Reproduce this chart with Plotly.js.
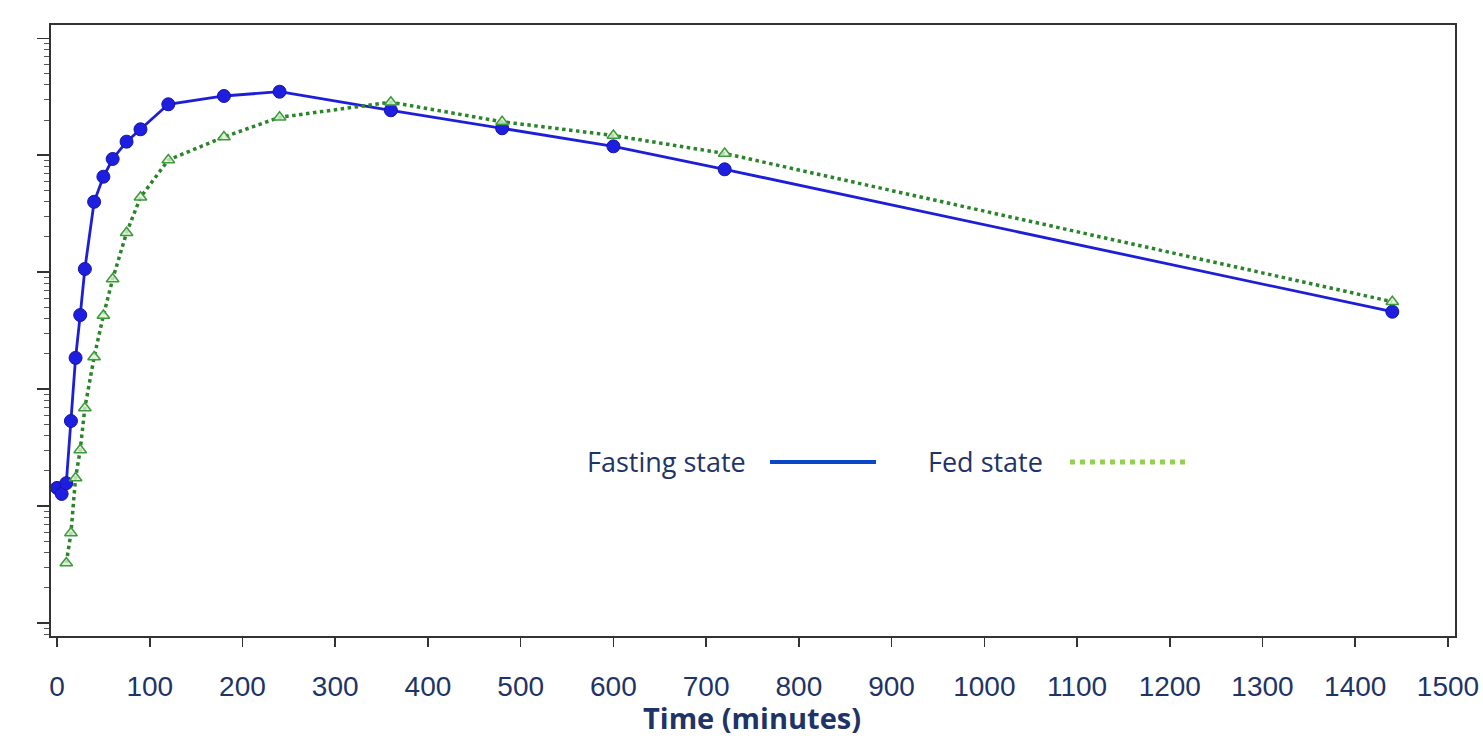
<!DOCTYPE html>
<html>
<head>
<meta charset="utf-8">
<script src="https://cdn.plot.ly/plotly-3.0.1.min.js"></script>
<style>html,body{margin:0;padding:0;background:#fff;}#chart{width:1483px;height:741px;}</style>
</head>
<body>
<div id="chart"></div>
<script>
// Time points (minutes)
const timeFasting = [0, 5, 10, 15, 20, 25, 30, 40, 50, 60, 75, 90, 120, 180, 240, 360, 480, 600, 720, 1440];
const concFasting = [1.43, 1.27, 1.57, 5.34, 18.5, 43.0, 106.5, 400, 655, 929, 1306, 1667, 2727, 3211, 3494, 2423, 1700, 1192, 758, 45.9];
const timeFed = [10, 15, 20, 25, 30, 40, 50, 60, 75, 90, 120, 180, 240, 360, 480, 600, 720, 1440];
const concFed = [0.326, 0.588, 1.74, 3.02, 6.90, 18.8, 42.6, 87.4, 217.6, 436.9, 910.6, 1432, 2110, 2842, 1935, 1475, 1035, 55.9];
const xTickVals = [0, 100, 200, 300, 400, 500, 600, 700, 800, 900, 1000, 1100, 1200, 1300, 1400, 1500];
const seriesNames = ["Fasting state", "Fed state"];
const xTitle = "Time (minutes)";

const navy = "#1f3466";

const traces = [
  {
    x: timeFasting, y: concFasting, name: seriesNames[0], type: "scatter", mode: "lines+markers",
    line: {color: "#1e1ed8", width: 2.8},
    marker: {symbol: "circle", size: 13, color: "#1e1ee0", line: {color: "#1515a0", width: 1}},
    showlegend: false
  },
  {
    x: timeFed, y: concFed, name: seriesNames[1], type: "scatter", mode: "lines+markers",
    line: {color: "#2a842a", width: 3.5, dash: "dot"},
    marker: {symbol: "triangle-up", size: 11, color: "rgba(220,240,210,0.8)", line: {color: "#3c9a3c", width: 1.5}},
    showlegend: false
  }
];

const layout = {
  width: 1483, height: 741,
  margin: {l: 51, r: 28, t: 25, b: 105},
  paper_bgcolor: "#ffffff", plot_bgcolor: "#ffffff",
  showlegend: false,
  xaxis: {
    range: [-6.5, 1507.6],
    tickvals: xTickVals,
    ticktext: xTickVals.map(String),
    ticks: "outside", ticklen: 9, tickwidth: 1.5, tickcolor: "#333",
    showline: true, linecolor: "#333", linewidth: 2, mirror: true,
    showgrid: false, zeroline: false,
    ticklabelstandoff: 15,
    tickfont: {family: "Liberation Sans, Arial, sans-serif", size: 28, color: navy}
  },
  yaxis: {
    type: "log",
    range: [-1.111, 4.1137],
    dtick: 1,
    ticks: "outside", ticklen: 12, tickwidth: 1.5, tickcolor: "#333",
    showticklabels: false,
    showline: true, linecolor: "#333", linewidth: 2, mirror: true,
    showgrid: false, zeroline: false,
    minor: {ticks: "outside", ticklen: 5, tickcolor: "#555", tickwidth: 1, dtick: "D1", showgrid: false}
  },
  shapes: [
    {type: "line", xref: "paper", yref: "paper", x0: 0.5121, x1: 0.5876, y0: 0.2848, y1: 0.2848,
     line: {color: "#0a47c8", width: 4}},
    {type: "line", xref: "paper", yref: "paper", x0: 0.7258, x1: 0.8098, y0: 0.2848, y1: 0.2848,
     line: {color: "#92d050", width: 5, dash: "dot"}}
  ],
  annotations: [
    {xref: "paper", yref: "paper", x: 0.4964, y: 0.2848, xanchor: "right", yanchor: "middle",
     text: seriesNames[0], showarrow: false, font: {family: "Open Sans, sans-serif", size: 27, color: navy}},
    {xref: "paper", yref: "paper", x: 0.708, y: 0.2848, xanchor: "right", yanchor: "middle",
     text: seriesNames[1], showarrow: false, font: {family: "Open Sans, sans-serif", size: 27, color: navy}},
    {xref: "paper", yref: "paper", x: 0.4993, y: -0.1342, xanchor: "center", yanchor: "middle",
     text: "<b>" + xTitle + "</b>", showarrow: false, borderpad: 0,
     font: {family: "Open Sans, sans-serif", size: 29, color: navy}}
  ]
};

Plotly.newPlot("chart", traces, layout, {displayModeBar: false, staticPlot: true});
</script>
</body>
</html>
